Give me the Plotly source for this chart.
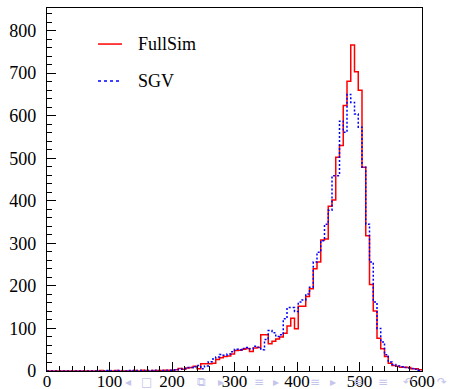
import numpy as np
import plotly.graph_objects as go

# 100 bins of width 6 over [0, 600]
bin_edges = np.arange(0, 606, 6)

fullsim_counts = [
    0, 0, 0, 0, 0, 0, 0, 0, 0, 0,
    0, 0, 0, 0, 1, 0, 0, 0, 1, 0,
    0, 0, 0, 1, 0, 2, 1, 0, 1, 1,
    1, 2, 2, 2, 3, 6, 4, 7, 8, 11,
    5, 17, 17, 17, 18, 27, 31, 34, 35, 40,
    48, 49, 51, 53, 46, 54, 55, 85, 85, 64,
    70, 75, 80, 89, 106, 124, 99, 152, 152, 175,
    193, 240, 256, 308, 310, 387, 402, 502, 530, 624,
    681, 766, 703, 660, 479, 318, 203, 141, 77, 52,
    34, 18, 13, 11, 9, 9, 8, 5, 5, 3,
]

sgv_counts = [
    0, 0, 0, 0, 0, 0, 0, 0, 0, 0,
    0, 0, 0, 0, 0, 0, 1, 0, 0, 1,
    0, 0, 1, 0, 1, 1, 0, 1, 1, 2,
    1, 1, 2, 2, 3, 4, 6, 8, 8, 10,
    13, 5, 12, 22, 28, 33, 39, 37, 40, 45,
    51, 50, 53, 55, 52, 58, 56, 50, 74, 95,
    90, 81, 85, 123, 149, 149, 140, 162, 167, 181,
    197, 256, 279, 306, 345, 378, 459, 459, 587, 561,
    650, 631, 604, 573, 479, 345, 256, 162, 100, 68,
    38, 21, 15, 12, 10, 8, 7, 6, 4, 2,
]

series_names = ["FullSim", "SGV"]
series_colors = ["#ff0000", "#0000ff"]

x_ticks = [0, 100, 200, 300, 400, 500, 600]
y_ticks = [0, 100, 200, 300, 400, 500, 600, 700, 800]

SERIF = "Liberation Serif"

fig = go.Figure()


def step_trace(counts, color, dash):
    y = list(counts) + [counts[-1]]
    return go.Scatter(
        x=bin_edges, y=y, mode="lines", line_shape="hv",
        line=dict(color=color, width=1.5, dash=dash),
        showlegend=False, hoverinfo="skip", cliponaxis=True,
    )


fig.add_trace(step_trace(fullsim_counts, series_colors[0], "solid"))
fig.add_trace(step_trace(sgv_counts, series_colors[1], "2px,2px"))

axis_common = dict(
    showline=True, linecolor="black", linewidth=1.2, mirror=True,
    ticks="inside", ticklen=9, tickwidth=1, tickcolor="black",
    showgrid=False, zeroline=False, automargin=False,
    minor=dict(ticks="inside", ticklen=5, tickwidth=1, tickcolor="black", showgrid=False),
)

fig.update_xaxes(range=[0, 600], tickvals=x_ticks, minor_dtick=20, minor_tick0=0,
                 ticklabelstandoff=-6,
                 tickfont=dict(family=SERIF, size=17, color="black"), **axis_common)
fig.update_yaxes(range=[0, 853], tickvals=y_ticks, minor_dtick=20, minor_tick0=0,
                 ticklabelstandoff=6,
                 tickfont=dict(family=SERIF, size=18, color="black"), **axis_common)

# Legend drawn as sample lines with labels
legend_rows = [0.9007, 0.7987]
legend_dash = ["solid", "dot"]
for name, color, ypos, dash in zip(series_names, series_colors, legend_rows, legend_dash):
    fig.add_shape(type="line", xref="paper", yref="paper",
                  x0=0.136, x1=0.200, y0=ypos, y1=ypos,
                  line=dict(color=color, width=1.5, dash=dash))
    fig.add_annotation(xref="paper", yref="paper", x=0.237, y=ypos,
                       text=name, showarrow=False, xanchor="left", yanchor="middle",
                       font=dict(family=SERIF, size=18, color="black"))

# Faint navigation glyphs along the bottom edge
nav_glyphs = ["◂", "□", "⧉", "▸", "≡", "▸", "≡", "▸", "≡", "≡", "↶", "↷"]
nav_px = [128, 146, 201, 221, 259, 276, 315, 333, 358, 383, 408, 442]
for g, px in zip(nav_glyphs, nav_px):
    fig.add_annotation(xref="paper", yref="paper", x=(px - 47) / 375, y=-10.5 / 362.7,
                       text=g, showarrow=False, xanchor="center", yanchor="middle",
                       font=dict(family="DejaVu Sans", size=12, color="#c4c4ec"))

fig.update_layout(
    width=449, height=389,
    margin=dict(l=47, r=27, t=8, b=18),
    paper_bgcolor="white", plot_bgcolor="white",
)

fig.write_html("out.html")
